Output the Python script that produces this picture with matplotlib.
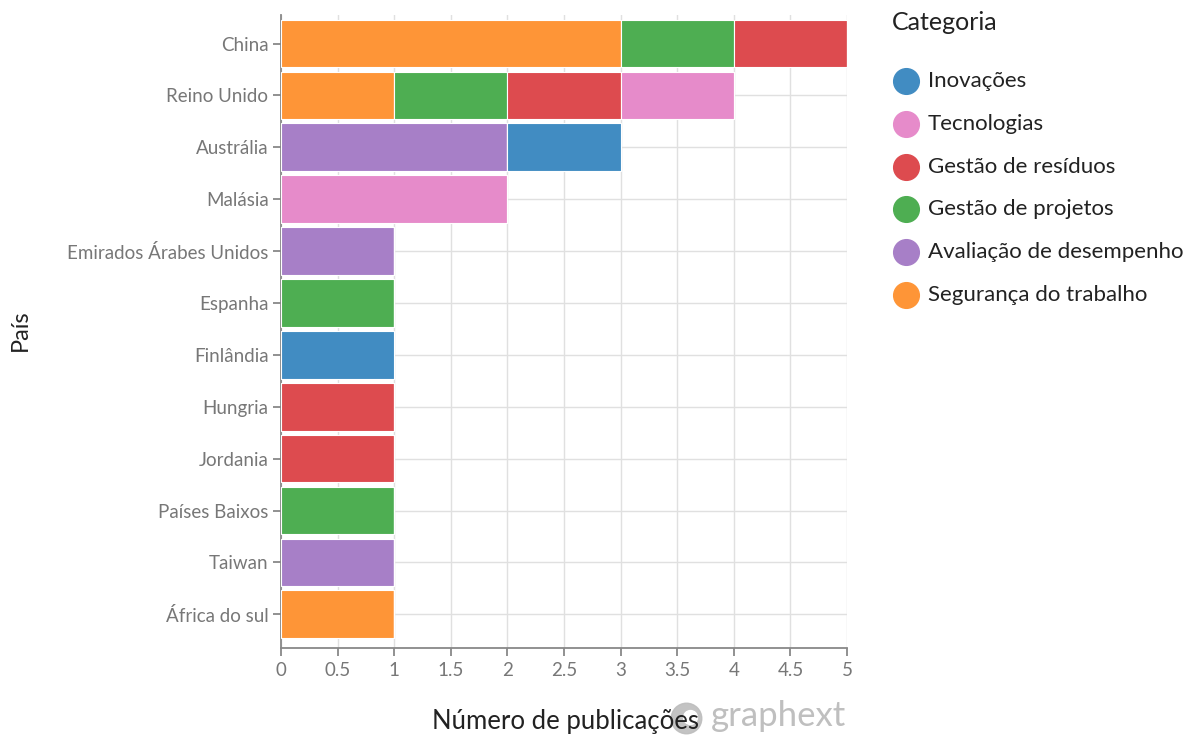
import matplotlib
matplotlib.use("Agg")
import matplotlib.pyplot as plt
import numpy as np

plt.rcParams['font.family'] = ['Lato', 'DejaVu Sans']

countries = ["China", "Reino Unido", "Austrália", "Malásia", "Emirados Árabes Unidos",
             "Espanha", "Finlândia", "Hungria", "Jordania", "Países Baixos", "Taiwan",
             "África do sul"]

# stacking order (left to right)
categories = ["Segurança do trabalho", "Avaliação de desempenho", "Gestão de projetos",
              "Gestão de resíduos", "Tecnologias", "Inovações"]
colors = {"Inovações": "#418cc2", "Tecnologias": "#e68bca", "Gestão de resíduos": "#dd4b4f",
          "Gestão de projetos": "#4eae52", "Avaliação de desempenho": "#a77fc7",
          "Segurança do trabalho": "#fe9537"}
legend_order = ["Inovações", "Tecnologias", "Gestão de resíduos", "Gestão de projetos",
                "Avaliação de desempenho", "Segurança do trabalho"]

seguranca = [3, 1, 0, 0, 0, 0, 0, 0, 0, 0, 0, 1]
avaliacao = [0, 0, 2, 0, 1, 0, 0, 0, 0, 0, 1, 0]
projetos  = [1, 1, 0, 0, 0, 1, 0, 0, 0, 1, 0, 0]
residuos  = [1, 1, 0, 0, 0, 0, 0, 1, 1, 0, 0, 0]
tecnologias = [0, 1, 0, 2, 0, 0, 0, 0, 0, 0, 0, 0]
inovacoes = [0, 0, 1, 0, 0, 0, 1, 0, 0, 0, 0, 0]
series = {"Segurança do trabalho": seguranca, "Avaliação de desempenho": avaliacao,
          "Gestão de projetos": projetos, "Gestão de resíduos": residuos,
          "Tecnologias": tecnologias, "Inovações": inovacoes}

W, H = 1196, 738
fig = plt.figure(figsize=(W / 100, H / 100), dpi=100)
ax = fig.add_axes([281 / W, 1 - 648 / H, (847 - 281) / W, (648 - 15) / H])

y = np.arange(len(countries))
left = np.zeros(len(countries))
for cat in categories:
    vals = np.array(series[cat], dtype=float)
    ax.barh(y, vals, left=left, height=0.92, color=colors[cat], edgecolor="white",
            linewidth=0.8, zorder=3)
    left += vals

ax.set_xlim(0, 5)
ax.set_ylim(len(countries) - 0.5 + 0.15, -0.5 - 0.05)
ax.set_xticks(np.arange(0, 5.01, 0.5))
ax.set_xticklabels(["0", "0.5", "1", "1.5", "2", "2.5", "3", "3.5", "4", "4.5", "5"])
ax.set_yticks(y)
ax.set_yticklabels(countries)
ax.grid(True, color="#e0e0e0", linewidth=1, zorder=0)
ax.set_axisbelow(True)
for s in ["top", "right"]:
    ax.spines[s].set_visible(False)
for s in ["left", "bottom"]:
    ax.spines[s].set_color("#888888")
    ax.spines[s].set_linewidth(1.3)
ax.tick_params(axis="both", colors="#888888", labelcolor="#777777", labelsize=13.5,
               length=6, width=1.3, pad=3)
ax.tick_params(axis="x", pad=4)

fig.text(20 / W, 1 - 330 / H, "País", rotation=90, ha="center", va="center",
         fontsize=17, color="#222222")
fig.text(565 / W, 1 - 722 / H, "Número de publicações", ha="center", va="center",
         fontsize=18.5, color="#222222")
# watermark
fig.text(711 / W, 1 - 716 / H, "graphext", ha="left", va="center", fontsize=25,
         color="#b8b8b8", alpha=0.9)
fig.add_artist(plt.Line2D([686 / W], [1 - 718 / H], marker="o", markersize=22,
                          markerfacecolor="#bdbdbd", markeredgecolor="#bdbdbd",
                          transform=fig.transFigure, alpha=0.9))
fig.add_artist(plt.Line2D([690 / W], [1 - 717 / H], marker="o", markersize=10,
                          markerfacecolor="white", markeredgecolor="white",
                          transform=fig.transFigure))

# legend
fig.text(892 / W, 1 - 23 / H, "Categoria", ha="left", va="center", fontsize=18,
         color="#222222")
for i, cat in enumerate(legend_order):
    yy = 1 - (81 + i * 42.8) / H
    fig.add_artist(plt.Line2D([906 / W], [yy], marker="o", markersize=18.5,
                              markerfacecolor=colors[cat], markeredgecolor=colors[cat],
                              linestyle="none", transform=fig.transFigure))
    fig.text(928 / W, yy, cat, ha="left", va="center", fontsize=16, color="#222222")

fig.savefig("out.png", dpi=100, facecolor="white")
